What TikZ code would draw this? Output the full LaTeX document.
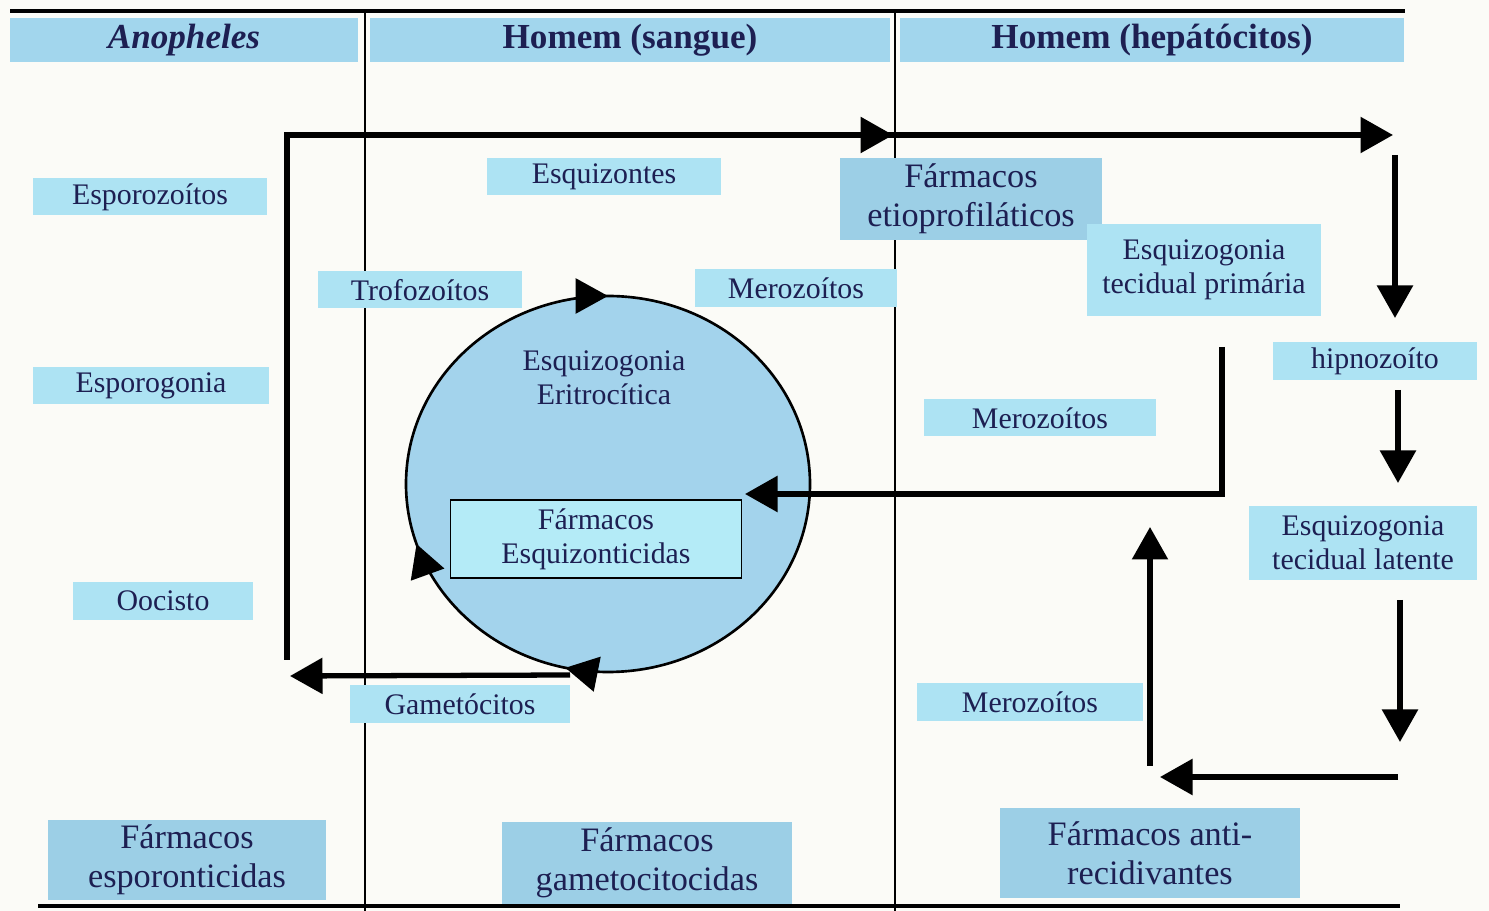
\documentclass[tikz,border=0pt]{standalone}
\usepackage{fontspec}
\setmainfont{Liberation Serif}
\usetikzlibrary{arrows.meta,decorations.markings,positioning}
\definecolor{navy}{HTML}{1D1F52}
\definecolor{hblue}{HTML}{A2D6ED}
\definecolor{lblue}{HTML}{ADE3F3}
\definecolor{dblue}{HTML}{9CCFE6}
\definecolor{cblue}{HTML}{A3D3EC}
\definecolor{bcyan}{HTML}{B4EBF7}
\definecolor{paper}{HTML}{FBFBF7}

\begin{document}
\begin{tikzpicture}[x=0.02cm,y=-0.02cm,
    hdr/.style={fill=hblue,text=navy,inner sep=0pt,minimum height=0.88cm,font=\fontsize{20}{24}\selectfont\bfseries},
    lbl/.style={fill=lblue,text=navy,inner sep=0pt,align=center,font=\fontsize{17}{19.5}\selectfont},
    big/.style={fill=dblue,text=navy,inner sep=0pt,align=center,font=\fontsize{19.5}{22}\selectfont},
    flow/.style={line width=3pt,-{Triangle[length=18.5pt,width=20pt]}},
    midtip/.style={postaction=decorate,decoration={markings,mark=at position #1 with {\arrow{Triangle[length=18.5pt,width=20pt]}}}}]
      \fill[paper] (0,0) rectangle (1489,911);
      \useasboundingbox (0,0) rectangle (1489,911);
      \draw[line width=2.2pt] (10,11) -- (1405,11);
      \draw[line width=2.2pt] (38,906) -- (1400,906);
      \draw[line width=1.4pt] (365,11) -- (365,911);
      \draw[line width=1.4pt] (895,11) -- (895,911);
      \node[hdr,minimum width=6.96cm] (hA) at (184,40) {\textit{Anopheles}};
      \node[hdr,minimum width=10.4cm] (hS) at (630,40) {Homem (sangue)};
      \node[hdr,minimum width=10.1cm] (hH) at (1152,40) {Homem (hep\'at\'ocitos)};
      \draw[fill=cblue,line width=1.5pt,postaction=decorate,decoration={markings,
        mark=at position 0.285 with {\arrow{Triangle[length=18.5pt,width=20pt]}},
        mark=at position 0.45 with {\arrow{Triangle[length=18.5pt,width=20pt]}},
        mark=at position 0.75 with {\arrow{Triangle[length=18.5pt,width=20pt]}}}]
        (608,484) ellipse [x radius=202, y radius=188];
      \coordinate (cyc) at (608,484);
      \node[lbl,fill=none] (eri) at (604,378) {Esquizogonia\\Eritroc\'itica};
      \node[lbl,fill=bcyan,draw=black,line width=1pt,minimum width=5.82cm,minimum height=1.56cm] (fesq) at (596,539) {F\'armacos\\Esquizonticidas};
      \coordinate (p0) at (287,660);
      \coordinate (p1) at (287,135);
      \coordinate (p2) at (1393,135);
      \draw[flow,midtip=0.6935] (p0) -- (p1) -- (p2);
      \coordinate (g0) at (570,675);
      \coordinate (g1) at (290,676);
      \draw[flow] (g0) -- (g1);
      \coordinate (r0) at (1395,155);
      \coordinate (r1) at (1395,318);
      \draw[flow] (r0) -- (r1);
      \coordinate (r2) at (1398,390);
      \coordinate (r3) at (1398,483);
      \draw[flow] (r2) -- (r3);
      \coordinate (r4) at (1400,600);
      \coordinate (r5) at (1400,742);
      \draw[flow] (r4) -- (r5);
      \coordinate (b0) at (1398,777);
      \coordinate (b1) at (1160,777);
      \draw[flow] (b0) -- (b1);
      \coordinate (u0) at (1150,766);
      \coordinate (u1) at (1150,527);
      \draw[flow] (u0) -- (u1);
      \coordinate (k0) at (1222,347);
      \coordinate (k1) at (1222,494);
      \coordinate (k2) at (745,494);
      \draw[flow] (k0) -- (k1) -- (k2);
      \node[lbl,minimum width=4.7cm,minimum height=0.74cm] (espz) at (150,197) {Esporozo\'itos};
      \node[lbl,minimum width=4.74cm,minimum height=0.74cm] (espg) at (151,386) {Esporogonia};
      \node[lbl,minimum width=3.6cm,minimum height=0.76cm] (ooc) at (163,601) {Oocisto};
      \node[big,minimum width=5.56cm,minimum height=1.6cm] (fespo) at (187,860) {F\'armacos\\esporonticidas};
      \node[lbl,minimum width=4.7cm,minimum height=0.74cm] (esqz) at (604,177) {Esquizontes};
      \node[lbl,minimum width=4.08cm,minimum height=0.74cm] (trof) at (420,290) {Trofozo\'itos};
      \node[lbl,minimum width=4.04cm,minimum height=0.76cm] (mer1) at (796,288) {Merozo\'itos};
      \node[big,minimum width=5.24cm,minimum height=1.64cm] (fetio) at (971,199) {F\'armacos\\etioprofil\'aticos};
      \node[lbl,minimum width=4.7cm,minimum height=1.86cm] (etp) at (1204,270) {Esquizogonia\\tecidual prim\'aria};
      \node[lbl,minimum width=4.08cm,minimum height=0.76cm] (hip) at (1375,361) {hipnozo\'ito};
      \node[lbl,minimum width=4.66cm,minimum height=0.74cm] (mer2) at (1040,418) {Merozo\'itos};
      \node[lbl,minimum width=4.56cm,minimum height=1.5cm] (etl) at (1363,543) {Esquizogonia\\tecidual latente};
      \node[lbl,minimum width=4.52cm,minimum height=0.76cm] (mer3) at (1030,702) {Merozo\'itos};
      \node[lbl,minimum width=4.42cm,minimum height=0.76cm] (gam) at (460,704) {Gamet\'ocitos};
      \node[big,minimum width=5.8cm,minimum height=1.66cm] (fgam) at (647,863) {F\'armacos\\gametocitocidas};
      \node[big,minimum width=6cm,minimum height=1.8cm] (fanti) at (1150,853) {F\'armacos anti-\\recidivantes};
\end{tikzpicture}
\end{document}
